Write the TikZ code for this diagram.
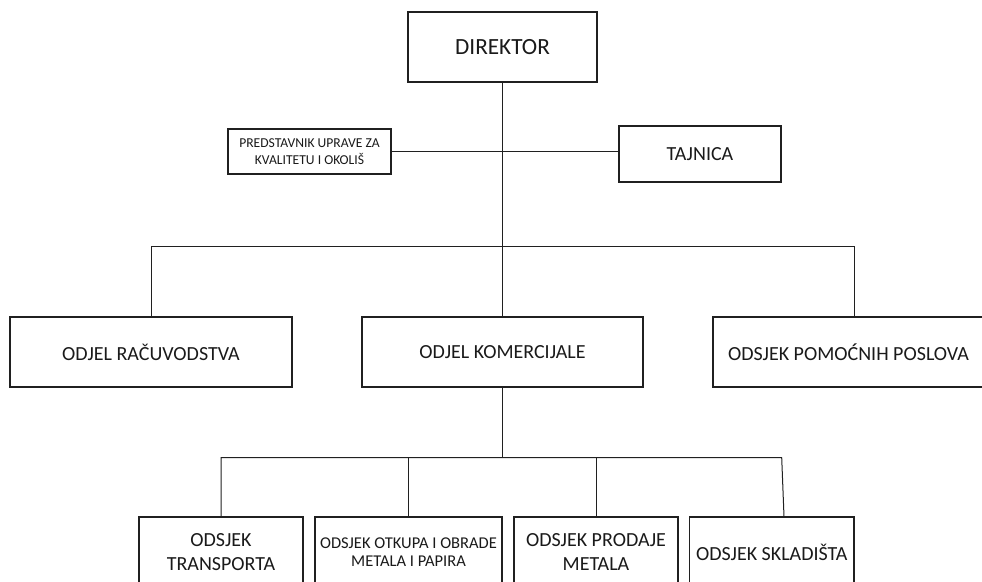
\documentclass[tikz,border=0pt]{standalone}
\usepackage{fontspec}
\setmainfont{Carlito}
\definecolor{txt}{HTML}{1A1A1A}
\definecolor{ln}{HTML}{202020}
\begin{document}
\begin{tikzpicture}[x=1pt,y=-1pt,
  box/.style={draw=ln,line width=1.1pt,fill=white,rectangle,inner sep=0pt,align=center,text=txt,
    font=\fontsize{20}{23.5}\selectfont},
  conn/.style={draw=ln,line width=1pt}]
\useasboundingbox (0,0) rectangle (982,581);
\clip (0,0) rectangle (982,581);
% top
\node[box,minimum width=189pt,minimum height=70pt,font=\fontsize{23.2}{26}\selectfont] (dir) at (502.5,47) {DIREKTOR};
\node[box,minimum width=163pt,minimum height=45pt,font=\fontsize{13.6}{17.3}\selectfont] (pred) at (309.5,151.5) {PREDSTAVNIK UPRAVE ZA\\KVALITETU I OKOLIŠ};
\node[box,minimum width=162pt,minimum height=56pt] (taj) at (700,154) {TAJNICA};
% middle row
\node[box,minimum width=282pt,minimum height=70pt] (rac) at (151,352) {ODJEL RAČUVODSTVA};
\node[box,minimum width=281pt,minimum height=70pt] (kom) at (502.5,352) {ODJEL KOMERCIJALE};
\node[box,minimum width=271pt,minimum height=70pt] (pom) at (848.5,352) {ODSJEK POMOĆNIH POSLOVA};
% bottom row
\node[box,minimum width=164pt,minimum height=70pt] (tra) at (221,552) {ODSJEK\\TRANSPORTA};
\node[box,minimum width=187pt,minimum height=70pt,font=\fontsize{16.5}{18.7}\selectfont] (otk) at (408.5,552) {ODSJEK OTKUPA I OBRADE\\METALA I PAPIRA};
\node[box,minimum width=164pt,minimum height=70pt] (pro) at (596,552) {ODSJEK PRODAJE\\METALA};
\node[box,minimum width=164.5pt,minimum height=70pt] (skl) at (771.75,552) {ODSJEK SKLADIŠTA};
% coordinates
\coordinate (busR) at (854,246.7);
\coordinate (bus2R) at (781.7,457.7);
% connectors
\draw[conn] (dir.south) -- (kom.north);
\draw[conn] (pred.east) -- (taj.west |- pred.east);
\draw[conn] (rac.north) |- (busR) -- (busR |- pom.north);
\draw[conn] (kom.south) -- (kom.south |- bus2R);
\draw[conn] (tra.north) |- (bus2R) -- ([xshift=12.25pt]skl.north);
\draw[conn] (otk.north) -- (otk.north |- bus2R);
\draw[conn] (pro.north) -- (pro.north |- bus2R);
\end{tikzpicture}
\end{document}
